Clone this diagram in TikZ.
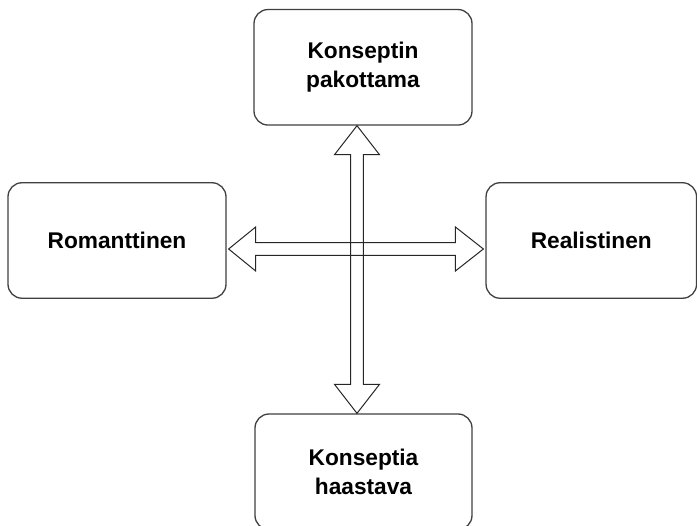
\documentclass[tikz,border=0pt]{standalone}
\usepackage{fontspec}
\setmainfont{Liberation Sans}
\usetikzlibrary{calc}
\begin{document}
\begin{tikzpicture}[x=1pt,y=-1pt,
  box/.style={draw=black!75, line width=1.3pt, rounded corners=14pt, fill=white,
    inner sep=0pt, align=center, font=\fontsize{22.7}{28.5}\selectfont\bfseries},
  dblarrow/.style={draw=black!85, line width=1pt, line join=miter}]
\useasboundingbox (0,0) rectangle (697,526);
\clip (0,0) rectangle (697,526);
\node[box, minimum width=218pt, minimum height=115.5pt] (top) at (363,67.3) {Konseptin\\pakottama};
\node[box, minimum width=218pt, minimum height=115.5pt] (left) at (117,240.5) {Romanttinen};
\node[box, minimum width=210.5pt, minimum height=115.5pt] (right) at (591.3,240.5) {Realistinen};
\node[box, minimum width=217pt, minimum height=115.5pt] (bottom) at (363.5,471.75) {Konseptia\\haastava};
\coordinate (vx) at (357,0);
\coordinate (hy) at (0,249);
% vertical double arrow
\draw[dblarrow] (top.south -| vx) coordinate (A)
  -- ++(22.5,29) -- ++(-16.2,0) coordinate (a1)
  -- ($(bottom.north -| vx)+(6.3,-29)$) -- ++(16.2,0)
  -- (bottom.north -| vx)
  -- ++(-22.5,-29) -- ++(16.2,0)
  -- ($(A)+(-6.3,29)$) -- ++(-16.2,0) -- cycle;
% horizontal double arrow
\draw[dblarrow] ($(left.east |- hy)+(2,0)$) coordinate (B)
  -- ++(27,-22) -- ++(0,15.7)
  -- ($(right.west |- hy)+(-2-28,-6.3)$) -- ++(0,-15.7)
  -- ($(right.west |- hy)+(-2,0)$)
  -- ++(-28,22) -- ++(0,-15.7)
  -- ($(B)+(27,6.3)$) -- ++(0,15.7) -- cycle;
\end{tikzpicture}
\end{document}
